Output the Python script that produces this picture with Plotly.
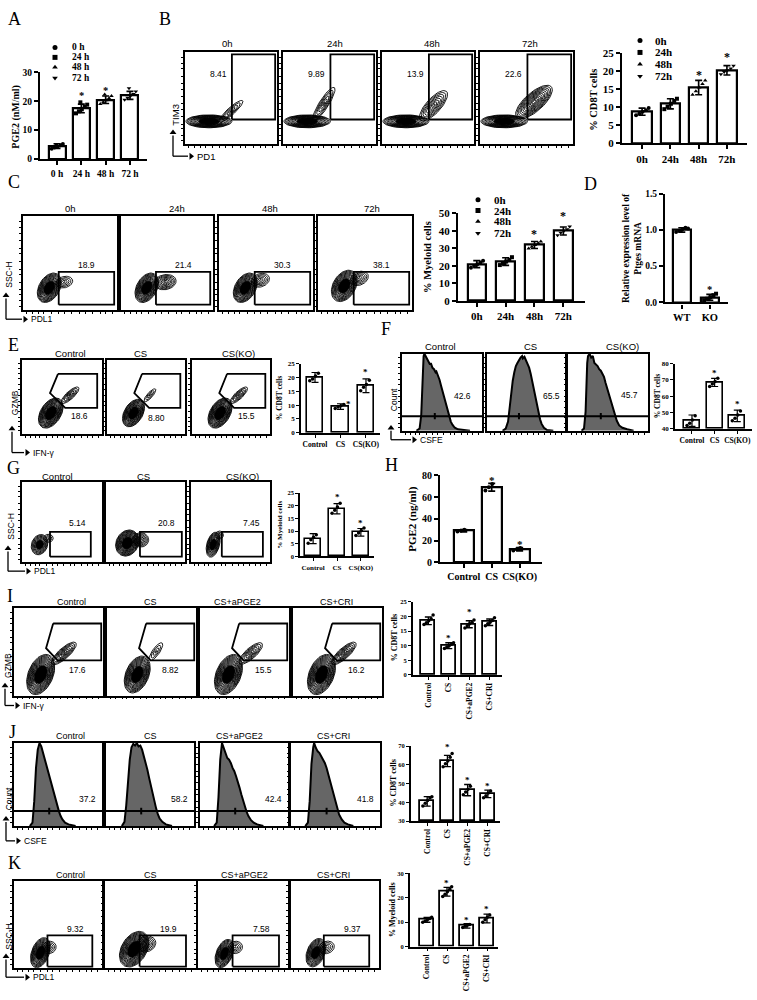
import numpy as np
import plotly.graph_objects as go

W, H = 757, 1000
SERIF = "Liberation Serif"
SANS = "Liberation Sans"

# ======================= DATA =======================
# Panel A
A_CATS = ["0 h", "24 h", "48 h", "72 h"]
A_MEAN = [4.5, 17.5, 20.5, 22.0]
A_SD = [0.8, 1.5, 1.3, 1.4]
A_PTS = [[3.6, 4.0, 4.4, 4.8, 5.2, 4.6],
         [15.8, 16.5, 17.2, 18.0, 18.8, 19.6],
         [19.0, 19.6, 20.3, 21.0, 21.8, 22.3],
         [20.5, 21.2, 21.8, 22.5, 23.3, 24.5]]
A_STARS = [None, 21.8, 23.8, None]

# Panel B
B_TITLES = ["0h", "24h", "48h", "72h"]
B_NUMS = ["8.41", "9.89", "13.9", "22.6"]
B_CATS = ["0h", "24h", "48h", "72h"]
B_MEAN = [8.8, 11.0, 15.5, 20.3]
B_SD = [1.0, 1.4, 2.0, 1.3]
B_PTS = [[7.8, 8.2, 8.8, 9.2, 9.8],
         [9.5, 10.2, 11.0, 11.8, 12.4],
         [13.5, 14.5, 15.5, 16.5, 17.5],
         [19.2, 19.8, 20.3, 20.8, 21.6]]
B_STARS = [None, None, 19.0, 24.0]

# Panel C
C_TITLES = ["0h", "24h", "48h", "72h"]
C_NUMS = ["18.9", "21.4", "30.3", "38.1"]
C_CATS = ["0h", "24h", "48h", "72h"]
C_MEAN = [21.0, 22.5, 32.0, 40.0]
C_SD = [2.0, 2.2, 2.0, 2.3]
C_PTS = [[19.0, 20.0, 21.0, 22.0, 23.0],
         [20.5, 21.5, 22.5, 23.5, 25.0],
         [30.0, 31.0, 32.0, 33.0, 34.0],
         [37.5, 39.0, 40.0, 41.0, 42.5]]
C_STARS = [None, None, 38.5, 48.5]
TIME_LEGEND = ["0h", "24h", "48h", "72h"]
TIME_LEGEND_A = ["0 h", "24 h", "48 h", "72 h"]

# Panel D
D_CATS = ["WT", "KO"]
D_MEAN = [1.0, 0.07]
D_SD = [0.03, 0.04]
D_PTS = [[0.97, 0.99, 1.01, 1.03, 1.02], [0.03, 0.05, 0.07, 0.10, 0.12]]
D_STARS = [None, 0.18]

# Panel E
GROUPS3 = ["Control", "CS", "CS(KO)"]
E_NUMS = ["18.6", "8.80", "15.5"]
E_MEAN = [20.0, 9.5, 17.0]
E_SD = [1.8, 1.0, 2.5]
E_PTS = [[18.8, 19.5, 20.5, 21.5], [8.8, 9.3, 9.8, 10.2], [15.2, 16.5, 17.5, 19.0]]
E_STARS = [None, 10.5, 22.0]

# Panel F
F_NUMS = ["42.6", "65.5", "45.7"]
F_MEAN = [45.0, 68.5, 48.0]
F_SD = [3.5, 2.5, 3.5]
F_PTS = [[42.0, 43.5, 45.5, 48.0], [66.0, 67.5, 69.0, 71.0], [45.0, 46.5, 48.5, 51.0]]
F_STARS = [None, 74.0, 55.0]

# Panel G
G_NUMS = ["5.14", "20.8", "7.45"]
G_MEAN = [7.0, 18.8, 9.5]
G_SD = [2.0, 2.0, 1.5]
G_PTS = [[5.2, 6.5, 7.5, 8.5], [17.0, 18.2, 19.5, 21.0], [8.2, 9.2, 10.2, 11.2]]
G_STARS = [None, 23.5, 13.3]

# Panel H
H_MEAN = [29.0, 69.0, 12.0]
H_SD = [1.0, 3.5, 1.5]
H_PTS = [[28.2, 29.0, 29.8], [66.0, 69.0, 72.0], [10.8, 12.0, 13.2]]
H_STARS = [None, 75.5, 16.5]

# Panel I
GROUPS4 = ["Control", "CS", "CS+aPGE2", "CS+CRI"]
I_NUMS = ["17.6", "8.82", "15.5", "16.2"]
I_MEAN = [18.5, 10.0, 17.3, 18.0]
I_SD = [1.3, 1.0, 1.2, 1.1]
I_PTS = [[17.2, 17.8, 18.5, 19.2, 20.5], [9.0, 9.5, 10.0, 10.5, 11.0],
         [16.0, 16.8, 17.5, 18.0, 18.8], [16.8, 17.5, 18.0, 18.6, 19.5]]
I_STARS = [None, 12.5, 21.5, None]

# Panel J
J_NUMS = ["37.2", "58.2", "42.4", "41.8"]
J_MEAN = [40.5, 62.0, 46.5, 44.5]
J_SD = [2.5, 3.0, 3.0, 2.0]
J_PTS = [[38.0, 39.5, 41.0, 42.5, 43.0], [59.0, 60.5, 62.0, 64.0, 66.0],
         [44.0, 45.5, 47.0, 48.5], [42.5, 43.5, 45.0, 46.0]]
J_STARS = [None, 69.5, 52.0, 48.5]

# Panel K
K_NUMS = ["9.32", "19.9", "7.58", "9.37"]
K_MEAN = [11.0, 22.5, 8.5, 11.5]
K_SD = [1.0, 1.8, 0.9, 1.8]
K_PTS = [[10.0, 10.5, 11.0, 11.5, 12.0], [20.5, 21.5, 22.5, 23.5, 24.5],
         [7.8, 8.3, 8.7, 9.1], [10.0, 11.0, 12.0, 13.0]]
K_STARS = [None, 26.0, 11.0, 15.5]

# Flow-plot contour blobs (cx, cy, rx, ry, angle, levels) in % of plot box; first = dense core
B_BLOBS = [[(26, 25, 25, 7, 0, 16), (50, 36, 17, 4, 42, 5)],
           [(26, 25, 25, 7, 0, 16), (44, 44, 21, 5, 58, 6)],
           [(26, 25, 25, 7, 0, 16), (56, 42, 21, 8, 48, 8)],
           [(26, 25, 25, 7, 0, 16), (58, 46, 25, 10, 42, 12)]]
C_BLOBS = [[(28, 24, 17, 11, 60, 16), (44, 30, 9, 6, 15, 5)],
           [(28, 24, 17, 11, 60, 16), (48, 30, 12, 8, 10, 8)],
           [(28, 24, 17, 11, 60, 16), (44, 32, 10, 7, 20, 6)],
           [(28, 26, 18, 12, 60, 16), (44, 34, 10, 7, 25, 6)]]
E_BLOBS = [[(36, 28, 22, 13, 62, 18), (60, 52, 15, 5, 45, 6)],
           [(34, 28, 20, 12, 62, 17), (55, 52, 11, 3.5, 50, 4)],
           [(36, 28, 22, 13, 62, 18), (60, 52, 15, 5, 45, 6)]]
G_BLOBS = [[(22, 22, 13, 10, 70, 11), (33, 30, 6, 5, 0, 4)],
           [(27, 24, 17, 14, 60, 18), (44, 28, 10, 9, 0, 7)],
           [(28, 22, 16, 8, 75, 12), (36, 34, 5, 5, 0, 4)]]
I_BLOBS = [[(30, 24, 24, 14, 68, 18), (56, 48, 18, 6, 42, 8)],
           [(34, 24, 22, 13, 68, 17), (55, 50, 12, 4, 55, 4)],
           [(32, 24, 24, 14, 68, 18), (57, 48, 17, 6, 42, 7)],
           [(32, 24, 24, 14, 68, 18), (57, 48, 18, 6, 42, 8)]]
K_BLOBS = [[(30, 18, 18, 10, 70, 15), (40, 24, 8, 7, 20, 5)],
           [(32, 22, 22, 14, 62, 18), (45, 28, 11, 9, 20, 7)],
           [(29, 17, 17, 9, 70, 14), (41, 24, 8, 7, 20, 5)],
           [(29, 18, 17, 10, 70, 14), (41, 24, 9, 7, 20, 5)]]

# CFSE histogram outlines (x%, y%)
F_HIST = [
    [(18, 0), (22, 3), (24, 20), (25, 55), (26, 85), (27, 97), (28, 100), (30, 96), (31, 93), (33, 90), (35, 86),
     (36, 88), (38, 82), (40, 80), (42, 76), (43, 77), (45, 72), (47, 66), (49, 58), (51, 50), (53, 42), (55, 34),
     (57, 26), (59, 18), (61, 12), (63, 8), (66, 4), (70, 2), (76, 1), (85, 0)],
    [(20, 0), (24, 3), (27, 12), (29, 30), (31, 50), (33, 65), (35, 76), (37, 84), (39, 88), (41, 92), (43, 95),
     (45, 97), (46, 94), (48, 96), (50, 92), (52, 88), (54, 82), (56, 74), (58, 64), (60, 54), (62, 44), (64, 34),
     (66, 24), (68, 15), (70, 9), (73, 4), (77, 1), (85, 0)],
    [(17, 0), (20, 3), (22, 25), (23, 60), (24, 88), (25, 97), (27, 100), (29, 95), (31, 97), (33, 88), (35, 86),
     (37, 84), (39, 80), (41, 78), (43, 74), (45, 70), (47, 62), (49, 55), (51, 48), (53, 42), (55, 34), (57, 26),
     (59, 19), (61, 13), (64, 7), (68, 4), (74, 2), (82, 0)]]
J_HIST = [
    [(18, 0), (21, 4), (23, 30), (25, 70), (27, 92), (29, 100), (31, 96), (33, 88), (35, 80), (37, 72), (39, 64),
     (41, 57), (43, 50), (45, 42), (47, 33), (49, 25), (51, 18), (53, 12), (55, 8), (58, 4), (62, 2), (70, 0)],
    [(18, 0), (21, 5), (23, 25), (25, 55), (27, 80), (29, 95), (31, 99), (33, 97), (35, 100), (37, 96), (39, 97),
     (41, 92), (43, 85), (45, 76), (47, 68), (49, 58), (51, 48), (53, 38), (55, 29), (57, 21), (59, 14), (61, 9),
     (64, 5), (68, 2), (75, 0)],
    [(16, 0), (19, 4), (21, 35), (23, 80), (25, 100), (27, 94), (29, 86), (31, 82), (33, 80), (35, 76), (37, 70),
     (39, 66), (41, 60), (43, 54), (45, 46), (47, 38), (49, 30), (51, 24), (53, 17), (55, 12), (58, 7), (61, 4),
     (65, 2), (72, 0)],
    [(16, 0), (19, 4), (21, 30), (23, 75), (25, 95), (26, 100), (28, 94), (30, 90), (32, 88), (34, 84), (36, 80),
     (38, 76), (40, 70), (42, 62), (44, 54), (46, 44), (48, 36), (50, 28), (52, 20), (54, 14), (57, 8), (60, 4),
     (64, 2), (70, 0)]]

# ======================= FIGURE =======================
fig = go.Figure()
LAY = {}
ANN = []
ARROWS = []
_n = [0]
JITTER = [-0.22, -0.1, 0.02, 0.14, 0.24, -0.04]
FLOW_TICKS = [4, 10, 17, 22, 30, 38, 44, 52, 60, 66, 74, 82, 88, 95]


def new_axes(x0, y0, x1, y1, xr, yr):
    _n[0] += 1
    s = '' if _n[0] == 1 else str(_n[0])
    LAY['xaxis' + s] = dict(domain=[x0 / W, x1 / W], range=xr, anchor='y' + s,
                            showgrid=False, zeroline=False, fixedrange=True)
    LAY['yaxis' + s] = dict(domain=[1 - y1 / H, 1 - y0 / H], range=yr, anchor='x' + s,
                            showgrid=False, zeroline=False, fixedrange=True)
    return 'x' + s, 'y' + s, s


def text(x, y, t, size, family=SANS, xanchor='center', yanchor='middle', angle=0, bold=False):
    ANN.append(dict(x=x / W, y=1 - y / H, xref='paper', yref='paper', text=t, showarrow=False,
                    font=dict(family=family, size=size, color='black', weight='bold' if bold else 'normal'),
                    xanchor=xanchor, yanchor=yanchor, textangle=angle))


def axis_L(cx, cy, head_y, head_x, ylab, ylab_y, xlab, size=8.5):
    ARROWS.append((cx, cy, head_y, head_x))
    text(cx + 3, ylab_y, ylab, size, angle=-90)
    text(head_x + 4, cy, xlab, size, xanchor='left')


def ellipse(cx, cy, rx, ry, ang, n=56):
    t = np.linspace(0, 2 * np.pi, n)
    a = np.deg2rad(ang)
    x = cx + rx * np.cos(t) * np.cos(a) - ry * np.sin(t) * np.sin(a)
    y = cy + rx * np.cos(t) * np.sin(a) + ry * np.sin(t) * np.cos(a)
    return list(x), list(y)


def draw_blobs(xa, ya, blobs):
    xs, ys = [], []
    for j, (cx, cy, rx, ry, ang, lv) in enumerate(blobs):
        for k in range(lv):
            s = 1 - k * 0.88 / max(lv - 1, 1)
            ex, ey = ellipse(cx, cy, rx * s, ry * s, ang)
            xs += ex + [None]
            ys += ey + [None]
    fig.add_trace(go.Scatter(x=xs, y=ys, mode='lines', line=dict(color='black', width=0.9),
                             xaxis=xa, yaxis=ya, showlegend=False, hoverinfo='skip'))
    cx, cy, rx, ry, ang, lv = blobs[0]
    ex, ey = ellipse(cx, cy, rx * 0.45, ry * 0.45, ang)
    fig.add_trace(go.Scatter(x=ex, y=ey, mode='lines', fill='toself', fillcolor='black',
                             line=dict(color='black', width=0.5),
                             xaxis=xa, yaxis=ya, showlegend=False, hoverinfo='skip'))


def poly(xa, ya, pts, width=1.8):
    fig.add_trace(go.Scatter(x=[p[0] for p in pts], y=[p[1] for p in pts], mode='lines',
                             line=dict(color='black', width=width), xaxis=xa, yaxis=ya,
                             showlegend=False, hoverinfo='skip'))


def rect(x0, x1, y0, y1):
    return [(x0, y0), (x1, y0), (x1, y1), (x0, y1), (x0, y0)]


def flow_row(boxes_x, y0, y1, titles, title_xs, title_y, nums, num_pos, blobs=None, gates=None,
             hists=None, hline=None, title_size=9.5, num_size=8.5):
    for i, (bx0, bx1) in enumerate(boxes_x):
        xa, ya, s = new_axes(bx0, y0, bx1, y1, [0, 100], [0, 100])
        common = dict(showline=True, mirror=True, linecolor='black', linewidth=1.5, ticks='outside',
                      ticklen=2, tickwidth=1, tickcolor='black', showticklabels=False, tickvals=FLOW_TICKS)
        LAY['xaxis' + s].update(common)
        LAY['yaxis' + s].update(common)
        if hists is not None:
            hp = hists[i]
            fig.add_trace(go.Scatter(x=[p[0] for p in hp], y=[p[1] for p in hp], mode='lines',
                                     fill='toself', fillcolor='#666666', line=dict(color='black', width=2),
                                     xaxis=xa, yaxis=ya, showlegend=False, hoverinfo='skip'))
        if blobs is not None:
            draw_blobs(xa, ya, blobs[i])
        if gates is not None:
            poly(xa, ya, gates[i])
        if hline is not None:
            hy, tx = hline
            poly(xa, ya, [(0, hy), (100, hy)], width=2)
            poly(xa, ya, [(tx, hy - 4), (tx, hy + 4)], width=2)
        ANN.append(dict(x=num_pos[i][0], y=num_pos[i][1], xref=xa, yref=ya, text=nums[i], showarrow=False,
                        font=dict(family=SANS, size=num_size, color='black'), xanchor='center',
                        yanchor='middle'))
        text(title_xs[i], title_y, titles[i], title_size)


def bar_panel(x0, y0, x1, y1, xr, yr, dtick, cats, means, sds, pts, stars, symbols,
              tick_size, lab_size, tickangle=0, lw=2.0, bar_w=0.7, msize=4, tickformat=None,
              star_dx=None, base=None, ticklen=4):
    xa, ya, s = new_axes(x0, y0, x1, y1, xr, yr)
    idx = list(range(len(cats)))
    fig.add_trace(go.Bar(x=idx, y=[m - (base or 0) for m in means], base=base, width=bar_w,
                         marker=dict(color='white', line=dict(color='black', width=lw)),
                         error_y=dict(type='data', array=sds, visible=True, color='black',
                                      thickness=lw * 0.75, width=3.5),
                         xaxis=xa, yaxis=ya, showlegend=False, hoverinfo='skip'))
    for i, p in enumerate(pts):
        fig.add_trace(go.Scatter(x=[i + JITTER[k] * bar_w / 0.7 for k in range(len(p))], y=p,
                                 mode='markers',
                                 marker=dict(symbol=symbols[i], size=msize, color='black'),
                                 xaxis=xa, yaxis=ya, showlegend=False, hoverinfo='skip', cliponaxis=False))
    for i, st in enumerate(stars):
        if st is None:
            continue
        dx = star_dx[i] if star_dx else 0
        ANN.append(dict(x=i + dx, y=st, xref=xa, yref=ya, text='*', showarrow=False,
                        font=dict(family=SERIF, size=max(tick_size + 1, 9), color='black', weight='bold'),
                        xanchor='center', yanchor='middle'))
    tf = dict(family=SERIF, size=tick_size, color='black', weight='bold')
    LAY['xaxis' + s].update(showline=True, linecolor='black', linewidth=lw, ticks='outside', ticklen=ticklen,
                            tickwidth=lw * 0.8, tickcolor='black', tickvals=idx, ticktext=cats,
                            tickfont=dict(family=SERIF, size=lab_size, color='black', weight='bold'),
                            tickangle=tickangle)
    LAY['yaxis' + s].update(showline=True, linecolor='black', linewidth=lw, ticks='outside', ticklen=ticklen,
                            tickwidth=lw * 0.8, tickcolor='black', dtick=dtick, tick0=yr[0], tickfont=tf,
                            tickformat=tickformat)
    return xa, ya


SYM4 = ['circle', 'square', 'triangle-up', 'triangle-down']
SYMC3 = ['circle', 'circle', 'circle']
SYMC4 = ['circle', 'circle', 'circle', 'circle']

# ---------- panel letters ----------
for lt, lx, ly in [("A", 14, 13), ("B", 165, 13), ("C", 14, 178), ("D", 590, 180), ("E", 13, 343),
                   ("F", 386, 327), ("G", 13, 468), ("H", 391, 465), ("I", 10, 597), ("J", 12, 735),
                   ("K", 14, 867)]:
    text(lx, ly, lt, 18, family=SERIF)

# ---------- A ----------
bar_panel(40, 67, 147, 155, [-0.7, 3.7], [0, 30], 10, A_CATS, A_MEAN, A_SD, A_PTS, A_STARS, SYM4,
          9.5, 9.5, lw=2.2)
text(16, 112, "PGE2 (nM/ml)", 10, family=SERIF, angle=-90, bold=True)

# ---------- B ----------
B_BOX = [(185, 277), (283, 376), (382, 474), (480, 573)]
B_GATE = [rect(51, 98, 27, 98)] * 4
flow_row(B_BOX, 47, 140, B_TITLES, [227, 335, 432, 530], 38, B_NUMS, [(36, 77)] * 4,
         blobs=B_BLOBS, gates=B_GATE)
axis_L(173, 152, 128, 191, "TIM3", 110, "PD1", size=9.5)
bar_panel(622, 48, 747, 139, [-0.71, 3.71], [0, 25], 5, B_CATS, B_MEAN, B_SD, B_PTS, B_STARS, SYM4,
          11, 11, lw=2.2, bar_w=0.68)
text(594, 95, "% CD8T cells", 10.5, family=SERIF, angle=-90, bold=True)

# ---------- C ----------
C_BOX = [(23, 117), (121, 213), (219, 313), (318, 412)]
C_GATE = [rect(38, 97, 6, 41)] * 4
flow_row(C_BOX, 213, 308, C_TITLES, [70, 177, 270, 372], 205, C_NUMS, [(68, 48)] * 4,
         blobs=C_BLOBS, gates=C_GATE)
axis_L(6, 317, 293, 25, "SSC-H", 272, "PDL1", size=8.5)
bar_panel(458, 210, 585, 298.5, [-0.65, 3.75], [0, 50], 10, C_CATS, C_MEAN, C_SD, C_PTS, C_STARS,
          SYM4, 11, 11, lw=2.2, bar_w=0.64)
text(428, 254, "% Myeloid cells", 10.5, family=SERIF, angle=-90, bold=True)

# ---------- D ----------
bar_panel(665, 190, 728, 300, [-0.6, 1.65], [0, 1.5], 0.5, D_CATS, D_MEAN, D_SD, D_PTS, D_STARS,
          ['circle', 'square'], 9.5, 10.5, lw=2.2, bar_w=0.65, tickformat='.1f')
text(632, 245, "Relative expression level of<br>Ptges mRNA", 9.5, family=SERIF, angle=-90, bold=True)

# ---------- E ----------
E_BOX = [(22, 102), (107, 185), (192, 270)]
PENT_E = [(45, 81), (94, 81), (94, 35), (54, 35), (35, 55), (45, 81)]
flow_row(E_BOX, 358, 433, GROUPS3, [70, 140, 238], 352, E_NUMS, [(72, 24), (64, 22), (70, 24)],
         blobs=E_BLOBS, gates=[PENT_E] * 3)
axis_L(12, 452, 428, 27, "GZMB", 402, "IFN-γ", size=8.5)
bar_panel(301, 362, 380, 432, [-0.55, 2.55], [0, 25], 5, GROUPS3, E_MEAN, E_SD, E_PTS, E_STARS, SYMC3,
          7, 7.5, lw=1.6, bar_w=0.66, msize=3.5, star_dx=[0, 0.3, 0], ticklen=3)
text(279, 397, "% CD8T cells", 7.5, family=SERIF, angle=-90, bold=True)

# ---------- F ----------
F_BOX = [(402, 482), (487, 565), (568, 648)]
flow_row(F_BOX, 352, 430, GROUPS3, [440, 530, 622], 345, F_NUMS, [(76, 45), (83, 45), (77, 47)],
         hists=F_HIST, hline=(19, 41))
axis_L(391, 439, 427, 414, "Count", 399, "CSFE", size=8.5)
bar_panel(675, 362, 752, 428, [-0.75, 2.65], [40, 80], 10, GROUPS3, F_MEAN, F_SD, F_PTS, F_STARS,
          SYMC3, 7, 7.5, lw=1.6, bar_w=0.7, msize=3.5, base=40, ticklen=3)
text(657, 395, "% CD8T cells", 7.5, family=SERIF, angle=-90, bold=True)

# ---------- G ----------
G_BOX = [(22, 102), (106, 185), (191, 270)]
G_GATE = [rect(35, 86, 7, 38), rect(43, 96, 7, 38), rect(39, 91, 7, 38)]
flow_row(G_BOX, 482, 563, GROUPS3, [57, 143, 242], 476, G_NUMS, [(69, 49), (77, 49), (77, 49)],
         blobs=G_BLOBS, gates=G_GATE)
axis_L(8, 572, 549, 28, "SSC-H", 527, "PDL1", size=8.5)
bar_panel(300, 493, 374, 557, [-0.55, 2.55], [0, 25], 5, GROUPS3, G_MEAN, G_SD, G_PTS, G_STARS, SYMC3,
          6.5, 7, lw=1.6, bar_w=0.66, msize=3.5, ticklen=3)
text(280, 525, "% Myeloid cells", 7, family=SERIF, angle=-90, bold=True)

# ---------- H ----------
bar_panel(440, 475, 542, 563, [-0.85, 2.8], [0, 80], 20, GROUPS3, H_MEAN, H_SD, H_PTS, H_STARS, SYMC3,
          10, 10, lw=2.2, bar_w=0.72, msize=4)
text(413, 520, "PGE2 (ng/ml)", 11, family=SERIF, angle=-90, bold=True)

# ---------- I ----------
I_BOX = [(14, 103), (107, 196), (200, 289), (293, 382)]
PENT_I = [(44, 82), (98, 82), (98, 40), (49, 40), (36, 54), (44, 82)]
flow_row(I_BOX, 609, 698, GROUPS4, [71, 150, 237, 336], 603, I_NUMS, [(71, 29)] * 4,
         blobs=I_BLOBS, gates=[PENT_I] * 4, title_size=9)
axis_L(5, 708, 688, 17, "GZMB", 668, "IFN-γ", size=8.5)
bar_panel(413, 603, 502, 677, [-0.75, 3.6], [0, 25], 5, GROUPS4, I_MEAN, I_SD, I_PTS, I_STARS, SYMC4,
          6.5, 7.5, tickangle=-90, lw=1.8, bar_w=0.68, msize=3.5, ticklen=3)
text(394, 640, "% CD8T cells", 8, family=SERIF, angle=-90, bold=True)

# ---------- J ----------
J_BOX = [(14, 102), (106, 194), (200, 288), (291, 380)]
flow_row(J_BOX, 746, 830, GROUPS4, [70, 150, 239, 333], 739, J_NUMS, [(84, 32)] * 4,
         hists=J_HIST, hline=(18, 40), title_size=9)
axis_L(6, 845, 823, 18, "Count", 803, "CSFE", size=8.5)
bar_panel(411, 749, 500, 825, [-0.8, 3.6], [30, 70], 10, GROUPS4, J_MEAN, J_SD, J_PTS, J_STARS, SYMC4,
          6.5, 7.5, tickangle=-90, lw=1.8, bar_w=0.68, msize=3.5, base=30, ticklen=3)
text(394, 787, "% CD8T cells", 8, family=SERIF, angle=-90, bold=True)

# ---------- K ----------
K_BOX = [(14, 102), (105, 196), (198, 289), (290, 379)]
K_GATE = [rect(38, 89, 2, 38)] * 4
flow_row(K_BOX, 886, 974, GROUPS4, [70, 150, 244, 333], 880, K_NUMS, [(70, 45)] * 4,
         blobs=K_BLOBS, gates=K_GATE, title_size=9)
axis_L(6, 983, 962, 27, "SSC-H", 942, "PDL1", size=8.5)
bar_panel(410, 878, 498, 952, [-0.85, 3.55], [0, 30], 10, GROUPS4, K_MEAN, K_SD, K_PTS, K_STARS, SYMC4,
          6.5, 7.5, tickangle=-90, lw=1.8, bar_w=0.68, msize=3.5, ticklen=3)
text(392, 915, "% Myeloid cells", 8, family=SERIF, angle=-90, bold=True)

# ---------- overlay (legends + L arrows) in page pixels ----------
xo, yo, so = new_axes(0, 0, W, H, [0, W], [H, 0])
LAY['xaxis' + so].update(visible=False)
LAY['yaxis' + so].update(visible=False)
LEG = [(55, 70, [42, 52, 62, 73], TIME_LEGEND_A, 9.5),
       (640, 653, [35, 47, 59, 71], TIME_LEGEND, 11),
       (478, 492, [196, 207, 218, 230], TIME_LEGEND, 11)]
for mx, tx, ys, labels, fs in LEG:
    for k, (yy, lab) in enumerate(zip(ys, labels)):
        fig.add_trace(go.Scatter(x=[mx], y=[yy], mode='markers',
                                 marker=dict(symbol=SYM4[k], size=5, color='black'),
                                 xaxis=xo, yaxis=yo, showlegend=False, hoverinfo='skip'))
        text(tx, yy, lab, fs, family=SERIF, xanchor='left', bold=True)
for (cx, cy, hy, hx) in ARROWS:
    fig.add_trace(go.Scatter(x=[cx, cx, None, cx, hx - 3], y=[hy + 3, cy, None, cy, cy], mode='lines',
                             line=dict(color='black', width=1.3), xaxis=xo, yaxis=yo,
                             showlegend=False, hoverinfo='skip'))
    fig.add_trace(go.Scatter(x=[cx, hx], y=[hy, cy], mode='markers',
                             marker=dict(symbol=['triangle-up', 'triangle-right'], size=6, color='black'),
                             xaxis=xo, yaxis=yo, showlegend=False, hoverinfo='skip'))

fig.update_layout(**LAY)
fig.update_layout(width=W, height=H, margin=dict(l=0, r=0, t=0, b=0), showlegend=False,
                  paper_bgcolor='white', plot_bgcolor='rgba(0,0,0,0)', annotations=ANN,
                  bargap=0)
fig.write_html("out.html")
